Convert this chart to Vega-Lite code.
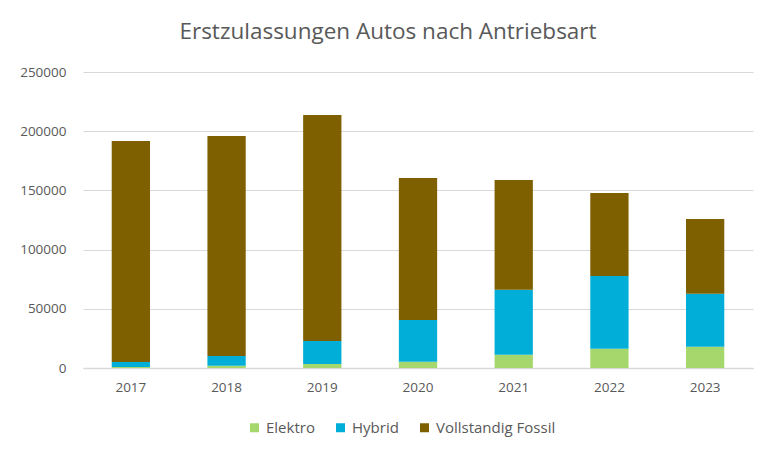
{
  "$schema": "https://vega.github.io/schema/vega-lite/v6.json",
  "width": 670,
  "height": 296,
  "autosize": {"type": "none"},
  "padding": {"left": 83, "top": 72, "right": 23, "bottom": 89},
  "background": "white",
  "title": {
    "text": "Erstzulassungen Autos nach Antriebsart",
    "font": "Open Sans",
    "fontSize": 22.5,
    "fontWeight": "normal",
    "color": "#595959",
    "anchor": "middle",
    "dx": -30,
    "offset": 22
  },
  "data": {
    "values": [
      {"Jahr": "2017", "Antrieb": "Elektro", "Anzahl": 800},
      {"Jahr": "2017", "Antrieb": "Hybrid", "Anzahl": 4300},
      {"Jahr": "2017", "Antrieb": "Vollstandig Fossil", "Anzahl": 186600},
      {"Jahr": "2018", "Antrieb": "Elektro", "Anzahl": 1800},
      {"Jahr": "2018", "Antrieb": "Hybrid", "Anzahl": 8300},
      {"Jahr": "2018", "Antrieb": "Vollstandig Fossil", "Anzahl": 185900},
      {"Jahr": "2019", "Antrieb": "Elektro", "Anzahl": 3400},
      {"Jahr": "2019", "Antrieb": "Hybrid", "Anzahl": 19400},
      {"Jahr": "2019", "Antrieb": "Vollstandig Fossil", "Anzahl": 190900},
      {"Jahr": "2020", "Antrieb": "Elektro", "Anzahl": 5300},
      {"Jahr": "2020", "Antrieb": "Hybrid", "Anzahl": 35200},
      {"Jahr": "2020", "Antrieb": "Vollstandig Fossil", "Anzahl": 120000},
      {"Jahr": "2021", "Antrieb": "Elektro", "Anzahl": 11200},
      {"Jahr": "2021", "Antrieb": "Hybrid", "Anzahl": 54900},
      {"Jahr": "2021", "Antrieb": "Vollstandig Fossil", "Anzahl": 92700},
      {"Jahr": "2022", "Antrieb": "Elektro", "Anzahl": 16300},
      {"Jahr": "2022", "Antrieb": "Hybrid", "Anzahl": 61400},
      {"Jahr": "2022", "Antrieb": "Vollstandig Fossil", "Anzahl": 70100},
      {"Jahr": "2023", "Antrieb": "Elektro", "Anzahl": 18000},
      {"Jahr": "2023", "Antrieb": "Hybrid", "Anzahl": 44800},
      {"Jahr": "2023", "Antrieb": "Vollstandig Fossil", "Anzahl": 63000}
    ]
  },
  "mark": {"type": "bar"},
  "encoding": {
    "x": {
      "field": "Jahr",
      "type": "nominal",
      "title": null,
      "scale": {"paddingInner": 0.6, "paddingOuter": 0.3},
      "axis": {
        "labelAngle": 0,
        "labelFont": "Open Sans",
        "labelFontSize": 13.5,
        "labelColor": "#595959",
        "labelPadding": 12,
        "ticks": false,
        "domainColor": "#d9d9d9",
        "domainWidth": 1.5,
        "grid": false
      }
    },
    "y": {
      "field": "Anzahl",
      "type": "quantitative",
      "aggregate": "sum",
      "stack": "zero",
      "title": null,
      "scale": {"domain": [0, 250000], "nice": false},
      "axis": {
        "values": [0, 50000, 100000, 150000, 200000, 250000],
        "format": "d",
        "labelFont": "Open Sans",
        "labelFontSize": 13.5,
        "labelColor": "#595959",
        "labelPadding": 17,
        "ticks": false,
        "domain": false,
        "gridColor": "#d9d9d9",
        "gridWidth": 1
      }
    },
    "color": {
      "field": "Antrieb",
      "type": "nominal",
      "scale": {
        "domain": ["Elektro", "Hybrid", "Vollstandig Fossil"],
        "range": ["#a6d76d", "#00aed8", "#7f6000"]
      },
      "legend": {
        "title": null,
        "orient": "none",
        "legendX": 164,
        "legendY": 348,
        "direction": "horizontal",
        "symbolType": "square",
        "symbolSize": 81,
        "symbolStrokeWidth": 0,
        "labelFont": "Open Sans",
        "labelFontSize": 15,
        "labelColor": "#595959",
        "labelOffset": 4,
        "columnPadding": 18,
        "padding": 0
      }
    },
    "order": {"field": "Antrieb", "sort": "ascending"}
  },
  "config": {
    "view": {"stroke": null}
  }
}
